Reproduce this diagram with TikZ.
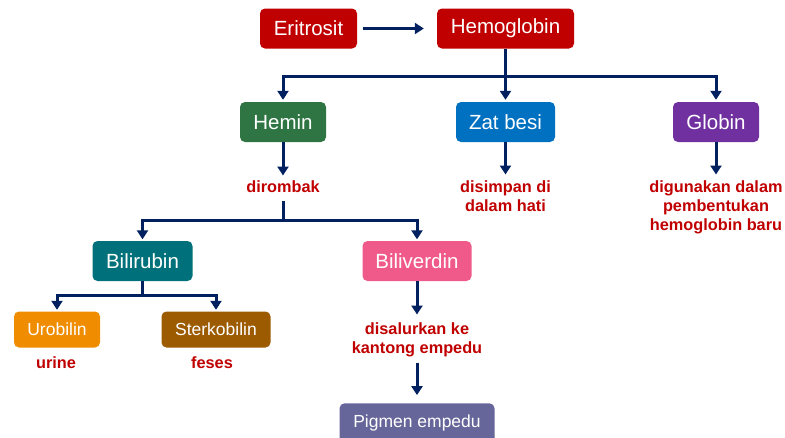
\documentclass[tikz,border=0pt]{standalone}
\usepackage{fontspec}
\setmainfont{Liberation Sans}
\usetikzlibrary{arrows.meta,positioning}
\definecolor{navy}{HTML}{002060}
\definecolor{merah}{HTML}{C00000}
\definecolor{hijau}{HTML}{2F7543}
\definecolor{biru}{HTML}{0070C0}
\definecolor{ungu}{HTML}{7030A0}
\definecolor{teal}{HTML}{00717A}
\definecolor{merahmuda}{HTML}{EF5A8A}
\definecolor{oranye}{HTML}{F08C00}
\definecolor{coklat}{HTML}{9C5B00}
\definecolor{abuungu}{HTML}{66669A}
\begin{document}
\begin{tikzpicture}[x=1pt,y=-1pt,>={Triangle[length=9pt,width=11pt]}, line join=miter,
	kotak/.style={rounded corners=5pt, text=white, inner sep=0pt, minimum height=40pt, font=\fontsize{20.5}{24}\selectfont},
	kecil/.style={kotak, minimum height=36pt, font=\fontsize{17.5}{21}\selectfont},
	ket/.style={text=merah, inner sep=0pt, anchor=north, align=center, font=\fontsize{16.3}{19}\selectfont\bfseries},
	panah/.style={draw=navy, line width=3pt}]
	\useasboundingbox (0,0) rectangle (785,437);
	\clip (0,0) rectangle (785,437);
	\node[kotak,fill=merah,minimum width=97pt] (eri) at (308.5,28.5) {Eritrosit};
	\node[kotak,fill=merah,minimum width=137pt] (hemo) at (505.5,28.5) {Hemoglobin};
	\node[kotak,fill=hijau,minimum width=86pt] (hemin) at (283,122) {Hemin};
	\node[kotak,fill=biru,minimum width=99pt] (zat) at (505.5,122) {Zat besi};
	\node[kotak,fill=ungu,minimum width=86pt] (glob) at (716,122) {Globin};
	\node[ket] (rombak) at (283,180) {dirombak};
	\node[ket] (simpan) at (505.5,180) {disimpan di\\dalam hati};
	\node[ket] (guna) at (716,180) {digunakan dalam\\pembentukan\\hemoglobin baru};
	\node[kotak,fill=teal,minimum width=100pt] (rubin) at (142.5,261) {Bilirubin};
	\node[kotak,fill=merahmuda,minimum width=109pt] (verdin) at (417,261) {Biliverdin};
	\node[kecil,fill=oranye,minimum width=86pt] (uro) at (57,329.5) {Urobilin};
	\node[kecil,fill=coklat,minimum width=109pt] (sterko) at (216,329.5) {Sterkobilin};
	\node[ket] (urine) at (56,356.5) {urine};
	\node[ket] (feses) at (212,356.5) {feses};
	\node[ket] (salur) at (417,322.5) {disalurkan ke\\kantong empedu};
	\node[kecil,fill=abuungu,minimum width=155pt,minimum height=40pt] (pigmen) at (417,423.3) {Pigmen empedu};
	\coordinate (hb) at (505.5,76);
	\coordinate (db) at (283,220);
	\coordinate (bb) at (142.5,295.5);
	\draw[panah,->,shorten <=6pt,shorten >=13pt] (eri) -- (hemo);
	\draw[panah,->,shorten >=2pt] (hemo) -- (zat);
	\draw[panah,->,shorten >=2pt] (hb) -| (hemin);
	\draw[panah,->,shorten >=2pt] (hb) -| (glob);
	\draw[panah,->,shorten >=4.5pt] (hemin) -- (rombak);
	\draw[panah,->,shorten >=5.5pt] (zat) -- (simpan);
	\draw[panah,->,shorten >=5.5pt] (glob) -- (guna);
	\draw[panah,shorten <=9pt] (rombak) -- (db);
	\draw[panah,->,shorten >=1.5pt] (db) -| (rubin);
	\draw[panah,->,shorten >=1.5pt] (db) -| (verdin);
	\draw[panah] (rubin) -- (bb);
	\draw[panah,->,shorten >=1.5pt] (bb) -| (uro);
	\draw[panah,->,shorten >=1.5pt] (bb) -| (sterko);
	\draw[panah,->,shorten >=8pt] (verdin) -- (salur);
	\draw[panah,->,shorten <=5.5pt,shorten >=8pt] (salur) -- (pigmen);
\end{tikzpicture}
\end{document}
